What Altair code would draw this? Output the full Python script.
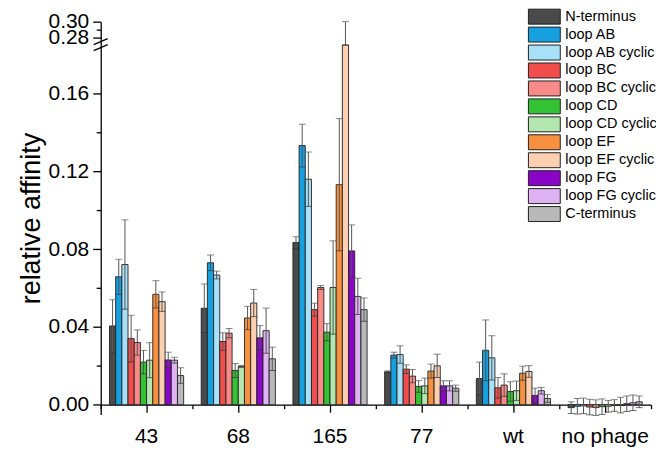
import altair as alt
import pandas as pd

groups = ["43", "68", "165", "77", "wt", "no phage"]
series = ["N-terminus", "loop AB", "loop AB cyclic", "loop BC", "loop BC cyclic",
          "loop CD", "loop CD cyclic", "loop EF", "loop EF cyclic", "loop FG",
          "loop FG cyclic", "C-terminus"]
colors = ["#4a4a4a", "#16a0e0", "#a8e0f8", "#f24d4d", "#f88a88", "#33c233",
          "#b4e6b0", "#f8913f", "#fccfb0", "#8a05c8", "#dfb2f4", "#b9b9b9"]

v43 = [0.0405, 0.0658, 0.0721, 0.034, 0.032, 0.0219, 0.0229, 0.0568, 0.053, 0.023, 0.0229, 0.015]
e43 = [0.0135, 0.009, 0.023, 0.012, 0.0065, 0.006, 0.009, 0.007, 0.005, 0.004, 0.0015, 0.004]
v68 = [0.0496, 0.073, 0.0667, 0.0325, 0.0368, 0.0176, 0.0197, 0.0446, 0.0523, 0.0344, 0.0381, 0.0236]
e68 = [0.0125, 0.004, 0.002, 0.0045, 0.0024, 0.0036, 0.0005, 0.006, 0.007, 0.0063, 0.0116, 0.006]
v165 = [0.0834, 0.1333, 0.116, 0.0489, 0.0603, 0.0373, 0.0603, 0.1132, 0.27, 0.0791, 0.0557, 0.0489]
e165 = [0.003, 0.011, 0.014, 0.0033, 0.001, 0.0044, 0.024, 0.034, 0.03, 0.0134, 0.0093, 0.006]
v77 = [0.0169, 0.0255, 0.0258, 0.0183, 0.0147, 0.0094, 0.0097, 0.0173, 0.02, 0.0097, 0.0097, 0.0085]
e77 = [0.0005, 0.0015, 0.0045, 0.0022, 0.0034, 0.003, 0.004, 0.0036, 0.006, 0.0026, 0.0026, 0.0016]
vwt = [0.0135, 0.028, 0.0241, 0.0087, 0.0101, 0.0068, 0.0072, 0.0162, 0.0171, 0.0048, 0.0072, 0.0032]
ewt = [0.0084, 0.0156, 0.0114, 0.0053, 0.0058, 0.005, 0.005, 0.0036, 0.003, 0.0037, 0.0017, 0.002]
vnp = [-0.0015, -0.0008, -0.0006, -0.0012, -0.0015, -0.001, -0.0008, -0.0004, -0.0002, 0.0005, 0.001, 0.0015]
enp = [0.003, 0.004, 0.004, 0.004, 0.004, 0.004, 0.003, 0.003, 0.004, 0.004, 0.004, 0.003]

major_ticks = [0.0, 0.04, 0.08, 0.12, 0.16, 0.28, 0.30]
minor_ticks = [0.02, 0.06, 0.10, 0.14, 0.29]

vals = [v43, v68, v165, v77, vwt, vnp]
errs = [e43, e68, e165, e77, ewt, enp]
rows = []
for g, vs, es in zip(groups, vals, errs):
    for s, v, e in zip(series, vs, es):
        rows.append({"group": g, "series": s, "value": v, "lo": v - e, "hi": v + e})
df = pd.DataFrame(rows)

FONT = "Liberation Sans"
W, H = 552, 394
yscale = alt.Scale(domain=[-0.005, 0.185, 0.27, 0.30], range=[H, 23.5, 23.5, 0],
                   nice=False, zero=False)
xscale = alt.Scale(domain=groups, paddingInner=0, paddingOuter=0)
offset_domain = ["pad-left"] + series + ["pad-right"]
xoff = alt.XOffset("series:N", sort=series,
                   scale=alt.Scale(domain=offset_domain, paddingInner=0, paddingOuter=0.42))

base = alt.Chart(df)

bars = base.mark_bar(stroke="#222222", strokeWidth=0.9, opacity=1).encode(
    x=alt.X("group:N", sort=groups, scale=xscale, title=None,
            axis=alt.Axis(orient="bottom", offset=-9.75, labelAngle=0, labelFont=FONT,
                          labelFontSize=21, labelColor="black", tickSize=7.5,
                          labelPadding=13.5, domainColor="black", domainWidth=1.3,
                          tickColor="black", tickWidth=1.3)),
    xOffset=xoff,
    y=alt.Y("value:Q", scale=yscale, title="relative affinity",
            axis=alt.Axis(orient="left", values=major_ticks, format=".2f", labelFont=FONT,
                          labelFontSize=21, labelColor="black", tickSize=8, labelPadding=4,
                          labelOverlap=False, domainColor="black", domainWidth=1.3,
                          tickColor="black", tickWidth=1.3, titleFont=FONT,
                          titleFontSize=27, titleFontWeight="normal", titleColor="black",
                          titlePadding=3, grid=False)),
    color=alt.Color("series:N", sort=series, scale=alt.Scale(domain=series, range=colors),
                    legend=alt.Legend(orient="none", legendX=437, legendY=-13, title=None,
                                      symbolType="M-2.13,-1L2.13,-1L2.13,1L-2.13,1Z",
                                      symbolSize=225, symbolStrokeColor="#222222",
                                      symbolStrokeWidth=1, symbolOpacity=1,
                                      labelFont=FONT, labelFontSize=14.5, labelColor="black",
                                      labelOffset=13, rowPadding=-2.1, padding=0,
                                      labelLimit=250)),
)

ERR = "#555555"
err_rule = base.mark_rule(color=ERR, strokeWidth=1).encode(
    x=alt.X("group:N", sort=groups, scale=xscale, axis=None),
    xOffset=xoff,
    y=alt.Y("lo:Q", scale=yscale, axis=None),
    y2="hi:Q",
)
cap_hi = base.mark_tick(color=ERR, thickness=1, size=7).encode(
    x=alt.X("group:N", sort=groups, scale=xscale, axis=None),
    xOffset=xoff,
    y=alt.Y("hi:Q", scale=yscale, axis=None),
)
cap_lo = base.mark_tick(color="#333333", thickness=1, size=7).encode(
    x=alt.X("group:N", sort=groups, scale=xscale, axis=None),
    xOffset=xoff,
    y=alt.Y("lo:Q", scale=yscale, axis=None),
)

minor = base.mark_point(opacity=0).encode(
    x=alt.X("group:N", sort=groups, scale=xscale, title=None,
            axis=alt.Axis(orient="bottom", offset=-9.75, labels=False, domain=False,
                          tickBand="extent", tickSize=4, tickColor="black", tickWidth=1.3)),
    y=alt.Y("value:Q", scale=yscale, title=None,
            axis=alt.Axis(orient="left", values=minor_ticks, labels=False, domain=False,
                          tickSize=4.5, tickColor="black", tickWidth=1.3, grid=False)),
)

one = alt.Chart(pd.DataFrame({"k": [0]}))
slash1 = one.mark_rule(color="black", strokeWidth=1.4).encode(
    x=alt.value(-7), x2=alt.value(7), y=alt.value(23), y2=alt.value(17))
slash2 = one.mark_rule(color="black", strokeWidth=1.4).encode(
    x=alt.value(-7), x2=alt.value(7), y=alt.value(29), y2=alt.value(23))

chart = alt.layer(bars, err_rule, cap_hi, cap_lo, minor, slash1, slash2).resolve_axis(
    x="independent", y="independent"
).properties(
    width=W, height=H,
    autosize=alt.AutoSizeParams(type="none"),
    padding={"left": 93, "top": 13, "right": 5, "bottom": 35},
    background="white",
).configure_view(stroke=None)

chart.save("out.html", embed_options={"renderer": "svg", "actions": False})
